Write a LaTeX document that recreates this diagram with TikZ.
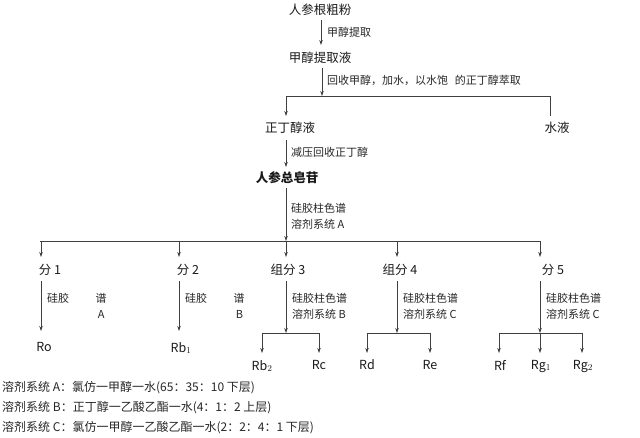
\documentclass[tikz,border=0pt]{standalone}
\usepackage{fontspec}
\setmainfont{Noto Sans CJK SC}
\usetikzlibrary{arrows.meta}
\begin{document}
\begin{tikzpicture}[x=1pt,y=-1pt,
  lab/.style={text=black!85,inner sep=1pt},
  main/.style={font=\fontsize{12.5}{14}\selectfont,text=black!90,inner sep=1pt},
  note/.style={lab,anchor=west,align=left,font=\fontsize{11}{16}\selectfont},
  leg/.style={lab,anchor=west,font=\fontsize{12}{14}\selectfont},
  ar/.style={draw=black!75,line width=0.7pt,-{Stealth[length=5pt,width=3.5pt]}},
  ln/.style={draw=black!75,line width=0.7pt}]
\useasboundingbox (0,0) rectangle (640,438);
\node[main] (a) at (320,10) {人参根粗粉};
\node[main] (b) at (320,58) {甲醇提取液};
\draw[ar] (321,20) -- (321,45);
\node[note,anchor=west] at (326,32) {甲醇提取};
\coordinate (j1) at (322,96);
\draw[ar] (322,68) -- (j1);
\node[note] at (326,80) {回收甲醇，加水，以水饱\hspace{0.6em}的正丁醇萃取};
\node[main] (c) at (290,128) {正丁醇液};
\node[main] (d) at (557,128) {水液};
\draw[ln] (286,96) -- (550,96);
\draw[ar] (286,96) -- (286,116);
\draw[ln] (550,96) -- (550,116);
\node[main,font=\bfseries\fontsize{12.5}{14}\selectfont] (e) at (287,178) {人参总皂苷};
\draw[ar] (286,140) -- (286,167);
\node[note] at (290,152) {减压回收正丁醇};
\draw[ar] (286,188) -- (286,241);
\node[note] at (290,216) {硅胶柱色谱\\溶剂系统 A};
\draw[ln] (40,241) -- (540,241);
\foreach \x/\t/\n/\tx in {41/分 1/f1/50,179/分 2/f2/188,286/组分 3/f3/288,397/组分 4/f4/400,540/分 5/f5/553}{
  \draw[ar] (\x,241) -- (\x,257);
  \node[main] (\n) at (\tx,270) {\t};
}
\draw[ar] (41,281) -- (41,331);
\node[note] at (46,306) {硅胶\hspace{2.4em}谱\\\hspace{4.6em}A};
\node[main] (r1) at (44,347) {Ro};
\draw[ar] (179,281) -- (179,331);
\node[note] at (184,306) {硅胶\hspace{2.4em}谱\\\hspace{4.6em}B};
\node[main] (r2) at (181,348) {Rb$_1$};
% group 3
\draw[ar] (286,281) -- (286,333);
\node[note] at (291,306) {硅胶柱色谱\\溶剂系统 B};
\draw[ln] (262,333) -- (319,333);
\node[main] (r3) at (262,366) {Rb$_2$};
\node[main] (r4) at (319,365) {Rc};
\draw[ar] (262,333) -- (262,353);
\draw[ar] (319,333) -- (319,353);
% group 4
\draw[ar] (397,281) -- (397,333);
\node[note] at (402,306) {硅胶柱色谱\\溶剂系统 C};
\draw[ln] (367,333) -- (430,333);
\node[main] (r5) at (367,365) {Rd};
\node[main] (r6) at (430,365) {Re};
\draw[ar] (367,333) -- (367,353);
\draw[ar] (430,333) -- (430,353);
% group 5
\draw[ar] (540,281) -- (540,333);
\node[note] at (545,306) {硅胶柱色谱\\溶剂系统 C};
\draw[ln] (499,333) -- (582,333);
\node[main] (r7) at (500,365) {Rf};
\node[main] (r8) at (541,366) {Rg$_1$};
\node[main] (r9) at (583,366) {Rg$_2$};
\draw[ar] (499,333) -- (499,353);
\draw[ar] (540,333) -- (540,353);
\draw[ar] (582,333) -- (582,353);
\node[leg] (l1) at (1,388) {溶剂系统 A：氯仿一甲醇一水(65：35：10 下层)};
\node[leg] (l2) at (1,408) {溶剂系统 B：正丁醇一乙酸乙酯一水(4：1：2 上层)};
\node[leg] (l3) at (1,428) {溶剂系统 C：氯仿一甲醇一乙酸乙酯一水(2：2：4：1 下层)};
\end{tikzpicture}
\end{document}
